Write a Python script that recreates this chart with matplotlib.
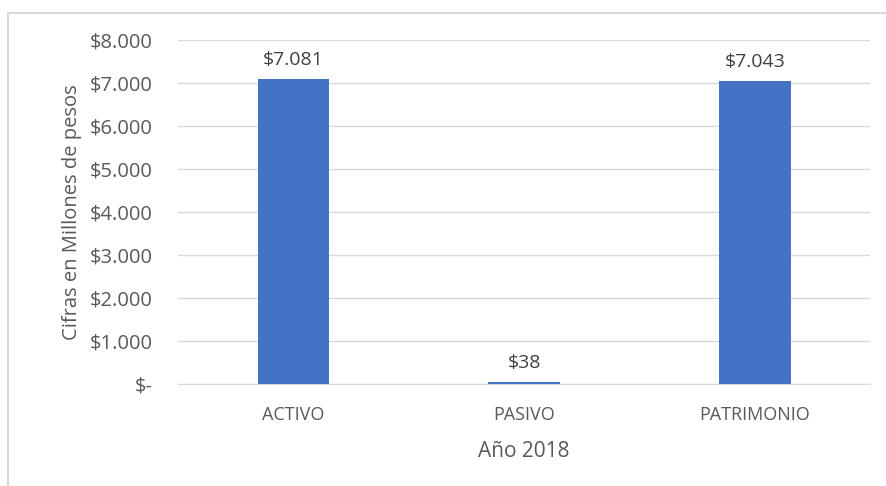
import matplotlib.pyplot as plt
from matplotlib.patches import Rectangle

categorias = ['ACTIVO', 'PASIVO', 'PATRIMONIO']
valores = [7081, 38, 7043]
etiquetas = ['$7.081', '$38', '$7.043']
yticks = [0, 1000, 2000, 3000, 4000, 5000, 6000, 7000, 8000]
ytick_labels = ['$-', '$1.000', '$2.000', '$3.000', '$4.000', '$5.000',
                '$6.000', '$7.000', '$8.000']

plt.rcParams['font.family'] = ['Open Sans', 'DejaVu Sans']
gris = '#595959'

fig = plt.figure(figsize=(8.87, 4.86), dpi=100)
ax = fig.add_axes([0.2007, 0.21, 0.7803, 0.708])

x = range(len(categorias))
ax.bar(x, valores, width=0.31, color='#4472C4', zorder=3)
for i, v in enumerate(valores):
    ax.text(i, v + 230, etiquetas[i], ha='center', va='bottom', fontsize=14, color='#404040')

ax.set_xlim(-0.5, 2.5)
ax.set_ylim(0, 8000)
ax.set_yticks(yticks)
ax.set_yticklabels(ytick_labels, fontsize=14.5, color=gris)
ax.set_xticks(list(x))
ax.set_xticklabels(categorias, fontsize=13, color=gris)
ax.tick_params(axis='both', length=0)
ax.tick_params(axis='y', pad=18)
ax.tick_params(axis='x', pad=16)
ax.grid(axis='y', color='#d9d9d9', linewidth=1, zorder=0)
for s in ['top', 'right', 'left']:
    ax.spines[s].set_visible(False)
ax.spines['bottom'].set_color('#d9d9d9')

ax.set_xlabel('Año 2018', fontsize=15, color=gris, labelpad=12)
ax.set_ylabel('Cifras en Millones de pesos', fontsize=14.5, color=gris, labelpad=6)

# borde del grafico
fig.patches.append(Rectangle((8 / 887, -0.1), 1.2, 1.1 - 13 / 486, transform=fig.transFigure,
                             fill=False, edgecolor='#d9d9d9', linewidth=1.5))

fig.savefig('out.png', dpi=100)
